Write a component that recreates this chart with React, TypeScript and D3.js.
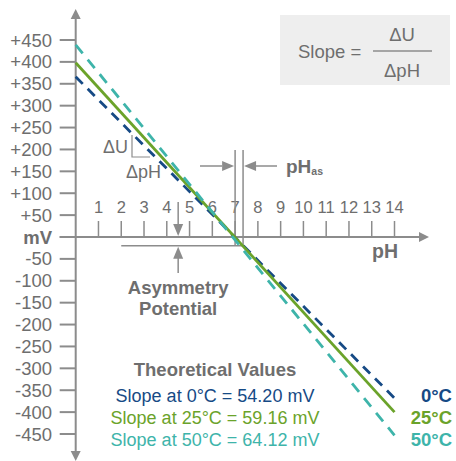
import * as d3 from 'd3';

// mV ticks on the left axis
const mvTicks = [450, 400, 350, 300, 250, 200, 150, 100, 50, 0, -50, -100, -150, -200, -250, -300, -350, -400, -450];
const phTicks = [1, 2, 3, 4, 5, 6, 7, 8, 9, 10, 11, 12, 13, 14];

// isotherms: potential (mV) at pH 0 and pH 14, as drawn
const temps = ['0°C', '25°C', '50°C'];
const slopes = ['54.20', '59.16', '64.12'];
const startMv = [366, 398, 439];
const endMv = [-368, -400, -453];
const colors = ['#164a85', '#6ba32a', '#3eb4aa'];
const dashes = ['10 7', null, '11 8'];

const phAs = 7.35;
const asymMv = -20;

const W = 456;
const H = 461;
const gray = '#6e6e6e';
const axisGray = '#8c8c8c';
const font = '"Liberation Sans", Arial, Helvetica, sans-serif';

export default function App() {
  const x = d3.scaleLinear().domain([0, 14]).range([75.7, 394.5]);
  const y = d3.scaleLinear().domain([-450, 450]).range([434, 40]);
  const line = d3.line<[number, number]>().x((d) => x(d[0])).y((d) => y(d[1]));

  const x0 = x(0);
  const y0 = y(0);

  const fmt = (v: number) => (v === 0 ? 'mV' : v > 0 ? '+' + v : String(v));

  return (
    <svg width={W} height={H} style={{ position: 'absolute', left: 0, top: 0 }} fontFamily={font}>
      <rect width={W} height={H} fill="#fff" />

      {/* slope formula box */}
      <rect x={280} y={15} width={170} height={70} fill="#eeeeee" />
      <text x={298} y={58} fontSize={18.5} fill={gray}>Slope =</text>
      <text x={402} y={41} fontSize={18.5} fill={gray} textAnchor="middle">ΔU</text>
      <line x1={373} x2={432} y1={51} y2={51} stroke={axisGray} strokeWidth={1.5} />
      <text x={402} y={77} fontSize={18.5} fill={gray} textAnchor="middle">ΔpH</text>

      {/* y axis */}
      <line x1={x0} x2={x0} y1={16} y2={455} stroke={axisGray} strokeWidth={2} />
      <path d={`M${x0},9 L${x0 - 5},19 L${x0 + 5},19 Z`} fill={axisGray} />
      <path d={`M${x0},461 L${x0 - 5},451 L${x0 + 5},451 Z`} fill={axisGray} />
      {mvTicks.map((v) => (
        <g key={v}>
          <line x1={x0 - 16} x2={x0} y1={y(v)} y2={y(v)} stroke={axisGray} strokeWidth={2} />
          <text
            x={52}
            y={y(v) + 6.5}
            fontSize={18.5}
            textAnchor="end"
            fill={gray}
            fontWeight={v === 0 ? 'bold' : 'normal'}
          >
            {fmt(v)}
          </text>
        </g>
      ))}

      {/* x axis */}
      <line x1={x0 - 16} x2={422} y1={y0} y2={y0} stroke={axisGray} strokeWidth={2} />
      <path d={`M429,${y0} L419,${y0 - 5} L419,${y0 + 5} Z`} fill={axisGray} />
      {phTicks.map((p) => (
        <g key={p}>
          <line x1={x(p)} x2={x(p)} y1={y0 - 16} y2={y0} stroke={axisGray} strokeWidth={1.5} />
          <text x={x(p)} y={213} fontSize={16.5} textAnchor="middle" fill={gray}>{p}</text>
        </g>
      ))}
      <text x={398} y={258} fontSize={19.5} fontWeight="bold" fill={gray} textAnchor="end">pH</text>

      {/* asymmetry potential */}
      <line x1={x(2)} x2={x(phAs)} y1={y(asymMv)} y2={y(asymMv)} stroke={axisGray} strokeWidth={1.5} />
      <line x1={x(7)} x2={x(7)} y1={150} y2={y(asymMv)} stroke={axisGray} strokeWidth={1.5} />
      <line x1={x(phAs)} x2={x(phAs)} y1={150} y2={y(asymMv) + 1} stroke={axisGray} strokeWidth={1.5} />
      <line x1={x(4.5)} x2={x(4.5)} y1={202} y2={226} stroke={axisGray} strokeWidth={1.5} />
      <path d={`M${x(4.5)},${y0 - 1} L${x(4.5) - 5},${y0 - 13} L${x(4.5) + 5},${y0 - 13} Z`} fill={axisGray} />
      <line x1={x(4.5)} x2={x(4.5)} y1={258} y2={273} stroke={axisGray} strokeWidth={1.5} />
      <path d={`M${x(4.5)},${y(asymMv) + 1} L${x(4.5) - 5},${y(asymMv) + 13} L${x(4.5) + 5},${y(asymMv) + 13} Z`} fill={axisGray} />
      <text x={x(4.5)} y={294} fontSize={18.5} fontWeight="bold" fill={gray} textAnchor="middle">Asymmetry</text>
      <text x={x(4.5)} y={315} fontSize={18.5} fontWeight="bold" fill={gray} textAnchor="middle">Potential</text>

      {/* pH_as arrows */}
      <line x1={200} x2={222} y1={166} y2={166} stroke={axisGray} strokeWidth={1.5} />
      <path d={`M${x(7) - 1},166 L${x(7) - 13},161 L${x(7) - 13},171 Z`} fill={axisGray} />
      <line x1={x(phAs) + 12} x2={277} y1={166} y2={166} stroke={axisGray} strokeWidth={1.5} />
      <path d={`M${x(phAs) + 1},166 L${x(phAs) + 13},161 L${x(phAs) + 13},171 Z`} fill={axisGray} />
      <text x={286} y={173} fontSize={19} fontWeight="bold" fill={gray}>
        pH<tspan fontSize={10.5} dy={2}>as</tspan>
      </text>

      {/* slope triangle */}
      <polyline points="132,135 132,157 150,157" fill="none" stroke={axisGray} strokeWidth={1.2} />
      <text x={128} y={153} fontSize={18} fill={gray} textAnchor="end">ΔU</text>
      <text x={126} y={178} fontSize={18} fill={gray}>ΔpH</text>

      {/* isotherms */}
      {temps.map((t, i) => (
        <path
          key={t}
          d={line([[0, startMv[i]], [14, endMv[i]]]) || ''}
          fill="none"
          stroke={colors[i]}
          strokeWidth={2.8}
          strokeDasharray={dashes[i] || undefined}
        />
      ))}

      {/* legend */}
      <text x={215} y={376} fontSize={18.5} fontWeight="bold" fill={gray} textAnchor="middle">Theoretical Values</text>
      {temps.map((t, i) => (
        <g key={t}>
          <text x={215} y={402 + i * 22} fontSize={18} fill={colors[i]} textAnchor="middle">
            {`Slope at ${t} = ${slopes[i]} mV`}
          </text>
          <text x={452} y={402 + i * 22} fontSize={18.5} fontWeight="bold" fill={colors[i]} textAnchor="end">
            {t}
          </text>
        </g>
      ))}
    </svg>
  );
}
